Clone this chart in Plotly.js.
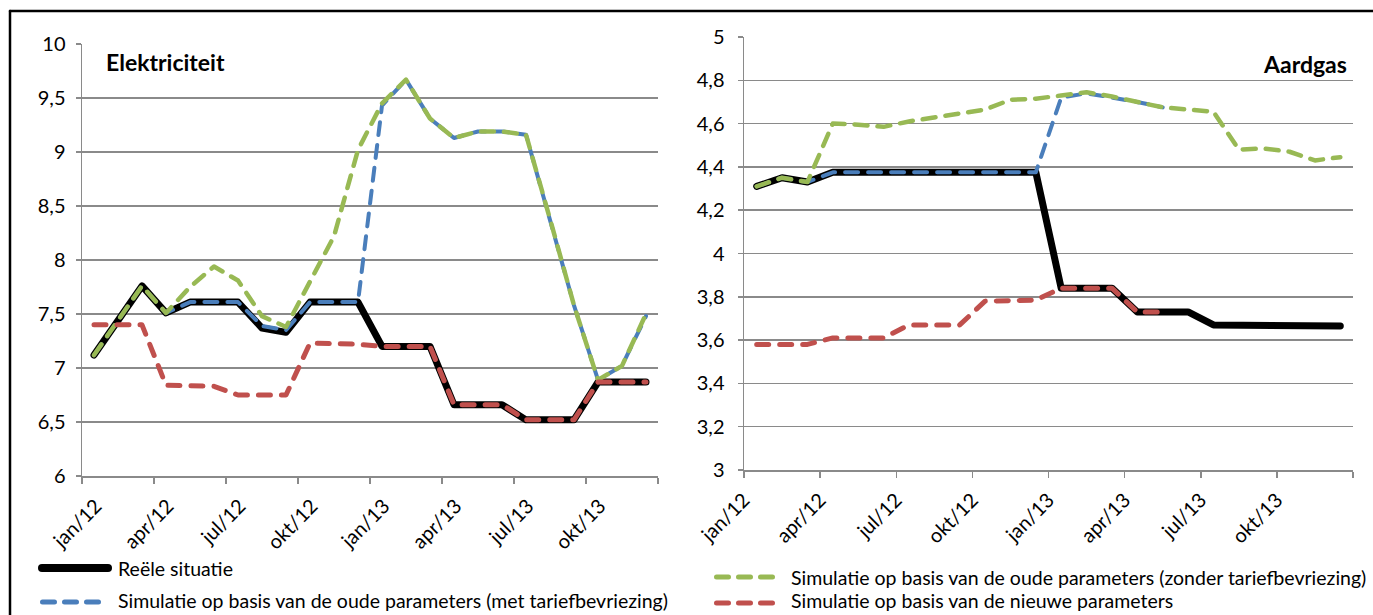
<!DOCTYPE html>
<html>
<head>
<meta charset="utf-8">
<script src="https://cdn.plot.ly/plotly-3.0.1.min.js"></script>
<style>
  html, body { margin: 0; padding: 0; background: #fff; }
  #chart { width: 1373px; height: 615px; }
  .scatterlayer .js-line { stroke-linecap: round; stroke-linejoin: round; }
  .shapelayer path { stroke-linecap: round; }
</style>
</head>
<body>
<div id="chart"></div>
<script>
// ---------- data ----------
const months = ["jan/12","feb/12","mrt/12","apr/12","mei/12","jun/12","jul/12","aug/12","sep/12","okt/12","nov/12","dec/12",
                "jan/13","feb/13","mrt/13","apr/13","mei/13","jun/13","jul/13","aug/13","sep/13","okt/13","nov/13","dec/13"];
const labelEvery = 3;

const seriesNames = [
  "Reële situatie",
  "Simulatie op basis van de oude parameters (met tariefbevriezing)",
  "Simulatie op basis van de oude parameters (zonder tariefbevriezing)",
  "Simulatie op basis van de nieuwe parameters"
];

// Elektriciteit
const elecReeel  = [7.12, 7.44, 7.76, 7.51, 7.61, 7.61, 7.61, 7.37, 7.33, 7.61, 7.61, 7.61, 7.20, 7.20, 7.20, 6.66, 6.66, 6.66, 6.52, 6.52, 6.52, 6.87, 6.87, 6.87];
const elecMet    = [7.12, 7.44, 7.76, 7.51, 7.61, 7.61, 7.61, 7.39, 7.35, 7.61, 7.61, 7.61, 9.43, 9.67, 9.31, 9.13, 9.19, 9.19, 9.16, 8.38, 7.58, 6.89, 7.02, 7.48];
const elecZonder = [7.12, 7.44, 7.76, 7.51, 7.75, 7.94, 7.81, 7.48, 7.38, 7.80, 8.22, 9.02, 9.45, 9.67, 9.31, 9.13, 9.19, 9.19, 9.16, 8.38, 7.58, 6.89, 7.02, 7.50];
const elecNieuw  = [7.40, 7.40, 7.40, 6.84, 6.84, 6.83, 6.75, 6.75, 6.75, 7.23, 7.23, 7.22, 7.20, 7.20, 7.20, 6.66, 6.66, 6.66, 6.52, 6.52, 6.52, 6.87, 6.87, 6.87];

// Aardgas
const gasReeel  = [4.31, 4.35, 4.33, 4.375, 4.375, 4.375, 4.375, 4.375, 4.375, 4.375, 4.375, 4.375, 3.84, 3.84, 3.84, 3.73, 3.73, 3.73, 3.67, 3.67, 3.67, 3.67, 3.67, 3.665];
const gasMet    = [4.31, 4.35, 4.33, 4.375, 4.375, 4.375, 4.375, 4.375, 4.375, 4.375, 4.375, 4.375, 4.72, 4.74, 4.72, 4.70, 4.675, null, null, null, null, null, null, null];
const gasZonder = [4.31, 4.35, 4.33, 4.60, 4.595, 4.585, 4.61, 4.63, 4.645, 4.665, 4.71, 4.715, 4.73, 4.745, 4.725, 4.70, 4.675, 4.665, 4.655, 4.48, 4.485, 4.47, 4.43, 4.445];
const gasNieuw  = [3.58, 3.58, 3.58, 3.61, 3.61, 3.61, 3.67, 3.67, 3.67, 3.78, 3.78, 3.785, 3.84, 3.84, 3.84, 3.73, 3.73, null, null, null, null, null, null, null];

const titles = ["Elektriciteit", "Aardgas"];

// ---------- styles ----------
const W = 1373, H = 615;
const FONT = "Lato, 'Open Sans', sans-serif";
const GRID = "#8a8a8a";
const styles = [
  { color: "#000000", width: 7,   dash: "solid" },
  { color: "#4a7ebb", width: 4,   dash: "13px,10px" },
  { color: "#98b954", width: 4.5, dash: "13px,10px" },
  { color: "#c0504d", width: 5,   dash: "12px,11px" }
];

const idx = months.map((m, i) => i);
const tickIdx = idx.filter(i => i % labelEvery === 0);
const boundaryVals = tickIdx.map(i => i - 0.5).concat([months.length - 0.5]);
const boundaryText = tickIdx.map(i => months[i]).concat([""]);

function px(x) { return x / W; }
function py(y) { return 1 - y / H; }

const elecSeries = [elecReeel, elecMet, elecZonder, elecNieuw];
const gasSeries  = [gasReeel, gasMet, gasZonder, gasNieuw];

const traces = [];
[[elecSeries, "x", "y"], [gasSeries, "x2", "y2"]].forEach(([set, xa, ya]) => {
  set.forEach((vals, k) => {
    traces.push({
      type: "scatter", mode: "lines",
      x: idx, y: vals, xaxis: xa, yaxis: ya,
      name: seriesNames[k], showlegend: false,
      connectgaps: false,
      line: { color: styles[k].color, width: styles[k].width, dash: styles[k].dash, shape: "linear" },
      hoverinfo: "skip"
    });
  });
});

function xAxis(domain, yref, shift) {
  return {
    domain: domain, anchor: yref,
    range: [-0.5, months.length - 0.5],
    tickmode: "array", tickvals: boundaryVals, ticktext: boundaryText,
    ticks: "outside", ticklen: 6, tickwidth: 1.5, tickcolor: GRID,
    ticklabelshift: shift, ticklabelstandoff: 3, tickangle: -45,
    showline: true, linecolor: GRID, linewidth: 1.5,
    showgrid: false, zeroline: false,
    tickfont: { family: FONT, size: 20, color: "#000" },
    fixedrange: true
  };
}
function yAxis(domain, xref, range, dtick, standoff) {
  return {
    domain: domain, anchor: xref,
    range: range, dtick: dtick, tick0: range[0],
    ticks: "outside", ticklen: 5, tickwidth: 1.5, tickcolor: GRID,
    ticklabelstandoff: standoff,
    showline: true, linecolor: GRID, linewidth: 1.5,
    showgrid: true, gridcolor: GRID, gridwidth: 1.5,
    zeroline: false,
    tickfont: { family: FONT, size: 20, color: "#000" },
    fixedrange: true
  };
}

const legendItems = [
  { k: 0, x0: 42, x1: 108, y: 568, ty: 568, tx: 117 },
  { k: 1, x0: 42.5, x1: 98.5, y: 602, ty: 600, tx: 117 },
  { k: 2, x0: 716.5, x1: 772.5, y: 577, ty: 577, tx: 790 },
  { k: 3, x0: 716.5, x1: 772.5, y: 603, ty: 600, tx: 790 }
];

const shapes = [
  { type: "line", xref: "paper", yref: "paper", x0: px(10), x1: 1, y0: py(11), y1: py(11), line: { color: "#000", width: 2.5 } },
  { type: "line", xref: "paper", yref: "paper", x0: px(10), x1: px(10), y0: py(11), y1: 0, line: { color: "#000", width: 2.5 } }
];
const annotations = [
  { text: "<b>" + titles[0] + "</b>", xref: "paper", yref: "paper", x: px(104), y: py(62), xanchor: "left", yanchor: "middle", showarrow: false, font: { family: FONT, size: 23, color: "#000" } },
  { text: "<b>" + titles[1] + "</b>", xref: "paper", yref: "paper", x: px(1349), y: py(64), xanchor: "right", yanchor: "middle", showarrow: false, font: { family: FONT, size: 23, color: "#000" } }
];
legendItems.forEach(it => {
  const s = styles[it.k];
  shapes.push({ type: "line", xref: "paper", yref: "paper", x0: px(it.x0), x1: px(it.x1), y0: py(it.y), y1: py(it.y),
    line: { color: s.color, width: it.k === 0 ? 8 : 5, dash: it.k === 0 ? "solid" : "12px,10px" } });
  annotations.push({ text: seriesNames[it.k], xref: "paper", yref: "paper", x: px(it.tx), y: py(it.ty), xanchor: "left", yanchor: "middle",
    showarrow: false, borderpad: 0, font: { family: FONT, size: 19.5, color: "#000" } });
});

const layout = {
  width: W, height: H,
  margin: { l: 0, r: 0, t: 0, b: 0, pad: 0 },
  paper_bgcolor: "#fff", plot_bgcolor: "#fff",
  separators: ",.",
  showlegend: false,
  hovermode: false,
  xaxis:  xAxis([px(82), px(658)], "y", 14),
  yaxis:  yAxis([py(476), py(44)], "x", [6, 10], 0.5, 6),
  xaxis2: xAxis([px(744), px(1353)], "y2", 14.5),
  yaxis2: yAxis([py(470), py(37)], "x2", [3, 5], 0.2, 9),
  shapes: shapes,
  annotations: annotations
};

Plotly.newPlot("chart", traces, layout, { staticPlot: true, displayModeBar: false });
</script>
</body>
</html>
